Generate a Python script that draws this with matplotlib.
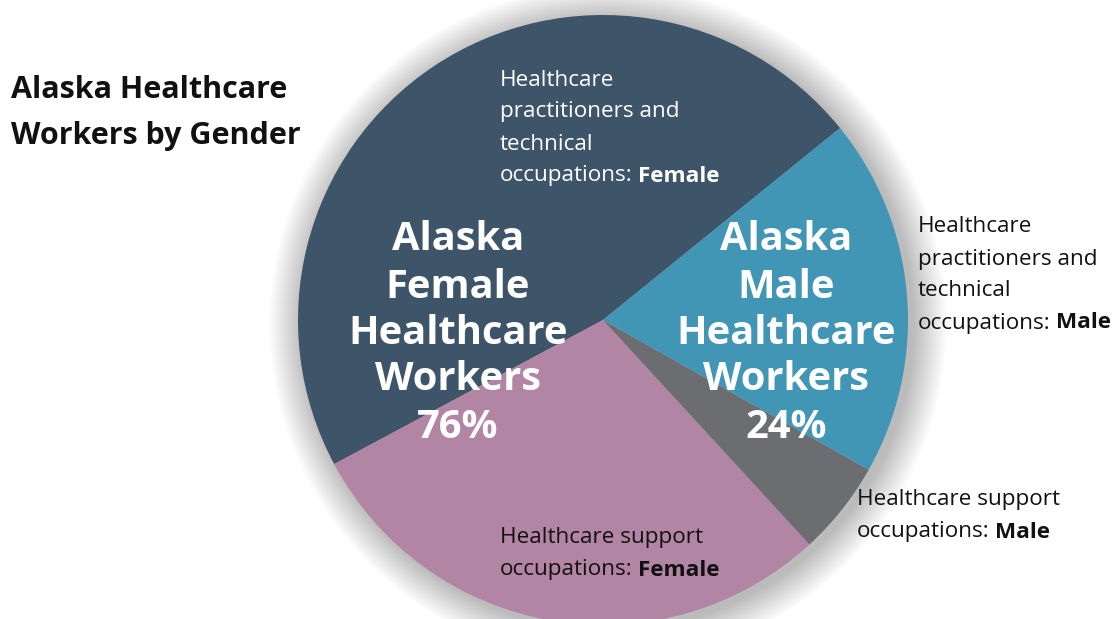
import matplotlib.pyplot as plt
from matplotlib.patches import Circle

plt.rcParams['font.family'] = ['Open Sans', 'DejaVu Sans']

# slice data (percent of Alaska healthcare workers)
slices = ['Practitioners Female', 'Support Female', 'Support Male', 'Practitioners Male']
shares = [47, 29, 5, 19]
colors = ['#3e5569', '#b385a4', '#6c6d71', '#4196b6']

female_total = '76%'
male_total = '24%'

W, H = 1117, 619
fig = plt.figure(figsize=(W / 100, H / 100), dpi=100)
ax = fig.add_axes([0, 0, 1, 1])

cx, cy, r = 603, H - 320, 305

# soft shadow around the pie
for k in range(34, 0, -1):
    ax.add_patch(Circle((cx + 5, cy - 4), r + k, color='#000000',
                        alpha=0.007, lw=0, zorder=0))

ax.pie(shares, colors=colors, startangle=39, counterclock=True,
       center=(cx, cy), radius=r, frame=True,
       wedgeprops=dict(linewidth=0))
ax.set_xlim(0, W)
ax.set_ylim(0, H)
ax.set_aspect('equal')
ax.axis('off')


def y(py):
    return H - py


# title
ax.text(11, y(90), 'Alaska Healthcare', fontsize=22, fontweight='bold',
        va='center', ha='left', color='#111111')
ax.text(11, y(136), 'Workers by Gender', fontsize=22, fontweight='bold',
        va='center', ha='left', color='#111111')

# big labels inside the pie
big_f = ['Alaska', 'Female', 'Healthcare', 'Workers', female_total]
big_m = ['Alaska', 'Male', 'Healthcare', 'Workers', male_total]
rows = [240, 287, 333, 380, 427]
for line, py in zip(big_f, rows):
    ax.text(458, y(py), line, fontsize=28.7, fontweight='bold', color='white',
            ha='center', va='center')
for line, py in zip(big_m, rows):
    ax.text(786, y(py), line, fontsize=28.7, fontweight='bold', color='white',
            ha='center', va='center')

fig.canvas.draw()
renderer = fig.canvas.get_renderer()


def label(x, lines, bold, color):
    for i, (line, py) in enumerate(lines):
        t = ax.text(x, y(py), line, fontsize=16.2, color=color,
                    ha='left', va='center')
        if i == len(lines) - 1:
            bb = t.get_window_extent(renderer=renderer)
            ax.text(bb.x1 + 5, y(py), bold, fontsize=16.2, fontweight='bold',
                    color=color, ha='left', va='center')


label(500, [('Healthcare', 80), ('practitioners and', 112), ('technical', 144),
            ('occupations:', 176)], 'Female', 'white')
label(918, [('Healthcare', 227), ('practitioners and', 259), ('technical', 291),
            ('occupations:', 323)], 'Male', '#111111')
label(857, [('Healthcare support', 500), ('occupations:', 532)], 'Male', '#111111')
label(500, [('Healthcare support', 538), ('occupations:', 570)], 'Female', '#111111')

fig.savefig('out.png', dpi=100)
